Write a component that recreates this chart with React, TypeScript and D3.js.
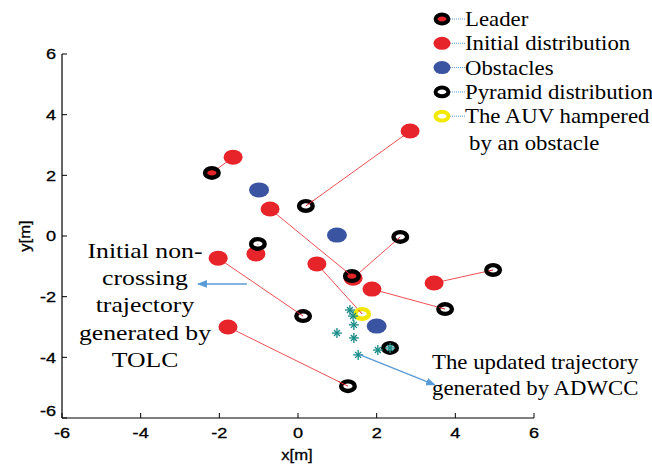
import React from "react";
import * as d3 from "d3";

const xTicks = [-6, -4, -2, 0, 2, 4, 6];
const yTicks = [-6, -4, -2, 0, 2, 4, 6];

const leader: [number, number][] = [[-2.19, 2.08]];
const initial: [number, number][] = [
  [-1.65, 2.6], [2.85, 3.46], [-0.71, 0.89], [-1.07, -0.59], [-2.03, -0.73],
  [0.48, -0.92], [1.4, -1.39], [1.88, -1.75], [3.46, -1.55], [-1.78, -3.0],
];
const obstacles: [number, number][] = [[-0.99, 1.52], [0.99, 0.03], [2.0, -2.97]];
const pyramid: [number, number][] = [
  [0.2, 0.99], [-1.02, -0.26], [2.6, -0.03], [1.37, -1.32], [0.13, -2.64],
  [3.74, -2.41], [4.96, -1.12], [1.27, -4.95], [2.34, -3.69],
];
const hampered: [number, number][] = [[1.63, -2.57]];
// initial -> target point
const paths: [[number, number], [number, number]][] = [
  [initial[0], leader[0]],
  [initial[1], pyramid[0]],
  [initial[2], pyramid[3]],
  [initial[3], pyramid[1]],
  [initial[4], pyramid[4]],
  [initial[5], hampered[0]],
  [initial[6], pyramid[2]],
  [initial[7], pyramid[5]],
  [initial[8], pyramid[6]],
  [initial[9], pyramid[7]],
];
const updated: [number, number][] = [
  [1.32, -2.44], [1.4, -2.64], [1.42, -2.93], [0.99, -3.2], [1.42, -3.36],
  [1.53, -3.92], [2.03, -3.76], [2.34, -3.69],
];
const arrows: [[number, number], [number, number]][] = [
  [[-1.3, -1.58], [-2.54, -1.58]],
  [[1.58, -3.92], [3.48, -4.91]],
];
const legendItems = ["Leader", "Initial distribution", "Obstacles", "Pyramid distribution", "The AUV hampered"];
const leftNote = ["Initial non-", "crossing", "trajectory", "generated by", "TOLC"];
const rightNote = ["The updated trajectory", "generated by ADWCC"];

const RED = "#e8242b";
const BLUE = "#3a54a2";
const YELLOW = "#f2e800";
const TEAL = "#168a86";
const ARROW = "#5b9bd5";
const SANS = "'Liberation Sans', Arial, sans-serif";
const SERIF = "'Liberation Serif', 'Times New Roman', serif";
const SERIF_SX = 1.14;
const SANS_SX = 1.25;

function T(props: { x: number; y: number; sx: number; children: React.ReactNode; anchor?: string; dy?: string; rot?: number }) {
  const { x, y, sx, anchor, dy, rot } = props;
  return (
    <text
      transform={`translate(${x},${y})${rot ? ` rotate(${rot})` : ""} scale(${sx},1)`}
      textAnchor={anchor || "start"}
      dy={dy}
    >
      {props.children}
    </text>
  );
}

export default function App() {
  const x = d3.scaleLinear().domain([-6, 6]).range([62, 534]);
  const y = d3.scaleLinear().domain([-6, 6]).range([418, 54]);
  const line = d3.line<[number, number]>().x((d) => x(d[0])).y((d) => y(d[1]));

  const ring = (cx: number, cy: number, color: string, fill = "white", rx = 6.8, ry = 4.8, sw = 4.4) => (
    <ellipse cx={cx} cy={cy} rx={rx} ry={ry} fill={fill} stroke={color} strokeWidth={sw} />
  );
  const dot = (cx: number, cy: number, color: string, rx = 9.5, ry = 7.5) => (
    <ellipse cx={cx} cy={cy} rx={rx} ry={ry} fill={color} />
  );
  const star = (cx: number, cy: number, key: number) => (
    <g key={key} stroke={TEAL} strokeWidth={1.3}>
      <line x1={cx - 5} y1={cy} x2={cx + 5} y2={cy} />
      <line x1={cx} y1={cy - 5} x2={cx} y2={cy + 5} />
      <line x1={cx - 3} y1={cy - 3} x2={cx + 3} y2={cy + 3} />
      <line x1={cx - 3} y1={cy + 3} x2={cx + 3} y2={cy - 3} />
    </g>
  );

  const legendMarkers = [
    (cx: number, cy: number) => ring(cx, cy, "#000", RED, 6.4, 4.4, 4),
    (cx: number, cy: number) => dot(cx, cy, RED, 8.5, 6.5),
    (cx: number, cy: number) => dot(cx, cy, BLUE, 8.5, 6.5),
    (cx: number, cy: number) => ring(cx, cy, "#000", "white", 6.4, 4.4, 4),
    (cx: number, cy: number) => ring(cx, cy, YELLOW, "white", 6.4, 4.4, 4),
  ];

  return (
    <svg width={652} height={465} style={{ position: "absolute", left: 0, top: 0, background: "white" }}>
      <defs>
        <marker id="ah" viewBox="0 0 10 10" refX="9" refY="5" markerWidth="7" markerHeight="7" orient="auto-start-reverse">
          <path d="M0,1 L10,5 L0,9 z" fill={ARROW} />
        </marker>
      </defs>
      {/* axes */}
      <line x1={x(-6)} y1={y(-6)} x2={x(6)} y2={y(-6)} stroke="#000" strokeWidth={1.2} />
      <line x1={x(-6)} y1={y(-6)} x2={x(-6)} y2={y(6)} stroke="#000" strokeWidth={1.2} />
      <g fontFamily={SANS} fontSize={14.5} stroke="#000" strokeWidth={0.3}>
        {xTicks.map((t) => (
          <g key={"xt" + t}>
            <line x1={x(t)} y1={y(-6)} x2={x(t)} y2={y(-6) - 5} stroke="#000" strokeWidth={1} />
            <T x={x(t)} y={438} sx={SANS_SX} anchor="middle">{t}</T>
          </g>
        ))}
        {yTicks.map((t) => (
          <g key={"yt" + t}>
            <line x1={x(-6)} y1={y(t)} x2={x(-6) + 5} y2={y(t)} stroke="#000" strokeWidth={1} />
            <T x={56} y={y(t) + (t === -6 ? -7 : 0)} sx={SANS_SX} anchor="end" dy="0.36em">{t}</T>
          </g>
        ))}
        <T x={297} y={460} sx={1.15} anchor="middle">x[m]</T>
        <T x={30} y={236} sx={1.15} anchor="middle" rot={-90}>y[m]</T>
      </g>

      {/* trajectories */}
      {paths.map((p, i) => (
        <path key={"p" + i} d={line(p) || ""} stroke={RED} strokeOpacity={0.8} strokeWidth={1} fill="none" />
      ))}
      {initial.map((d, i) => <g key={"r" + i}>{dot(x(d[0]), y(d[1]), RED)}</g>)}
      {obstacles.map((d, i) => <g key={"o" + i}>{dot(x(d[0]), y(d[1]), BLUE, 10, 7.5)}</g>)}
      {pyramid.map((d, i) => <g key={"k" + i}>{ring(x(d[0]), y(d[1]), "#000", i === 3 ? RED : "white")}</g>)}
      {leader.map((d, i) => <g key={"l" + i}>{ring(x(d[0]), y(d[1]), "#000", RED)}</g>)}
      {hampered.map((d, i) => <g key={"h" + i}>{ring(x(d[0]), y(d[1]), YELLOW)}</g>)}
      {paths.map((p, i) => (
        <path key={"q" + i} d={line([p[1], [p[1][0] + (p[0][0] - p[1][0]) * 0.08, p[1][1] + (p[0][1] - p[1][1]) * 0.08]]) || ""} stroke={RED} strokeWidth={1} fill="none" />
      ))}
      {updated.map((d, i) => star(x(d[0]), y(d[1]), i))}

      {arrows.map((a, i) => (
        <path key={"a" + i} d={line(a) || ""} stroke={ARROW} strokeWidth={1.4} fill="none" markerEnd="url(#ah)" />
      ))}

      {/* annotations */}
      <g fontFamily={SERIF} fontSize={22}>
        {leftNote.map((s, i) => (
          <T key={s} x={145} y={258 + i * 27.2} sx={1.17} anchor="middle">{s}</T>
        ))}
      </g>
      <g fontFamily={SERIF} fontSize={20}>
        {rightNote.map((s, i) => (
          <T key={s} x={432} y={369 + i * 26} sx={SERIF_SX}>{s}</T>
        ))}
      </g>

      {/* legend */}
      <g fontFamily={SERIF} fontSize={20}>
        {legendItems.map((s, i) => {
          const cy = 19 + i * 24.3;
          return (
            <g key={s}>
              <line x1={450} y1={cy} x2={465} y2={cy} stroke={ARROW} strokeWidth={1} strokeDasharray="1,1" />
              {legendMarkers[i](442, cy)}
              <T x={465} y={cy + 7} sx={SERIF_SX}>{s}</T>
            </g>
          );
        })}
        <T x={469} y={150} sx={SERIF_SX}>by an obstacle</T>
      </g>
    </svg>
  );
}
